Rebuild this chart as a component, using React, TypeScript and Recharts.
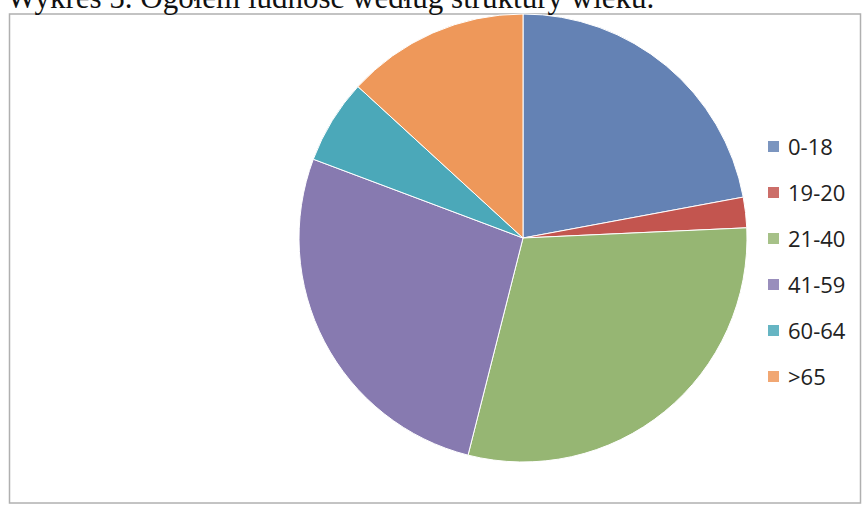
import { PieChart, Pie, Cell, Legend } from 'recharts'

const groups = ['0-18', '19-20', '21-40', '41-59', '60-64', '>65']
const shares = [22.1, 2.2, 29.7, 26.8, 6.1, 13.2]
const colors = ['#6482B4', '#C3554F', '#96B673', '#877AB0', '#4BA8B9', '#EE985A']

const title = 'Wykres 5. Ogółem ludność według struktury wieku.'

const data = groups.map((g, i) => ({ name: g, value: shares[i] }))

function LegendBox({ payload }: any) {
    return (
        <ul style={{ listStyle: 'none', margin: 0, padding: 0 }}>
            {(payload || []).map((p: any) => (
                <li key={p.value} style={{ height: 46, display: 'flex', alignItems: 'center' }}>
                    <span style={{ width: 11, height: 11, background: p.color, display: 'inline-block', marginRight: 9, opacity: 0.85 }} />
                    <span style={{ fontFamily: '"Open Sans", sans-serif', fontSize: 22, color: '#222' }}>{p.value}</span>
                </li>
            ))}
        </ul>
    )
}

export default function App() {
    return (
        <div style={{ position: 'absolute', left: 0, top: 0, width: 862, height: 509, background: '#fff', overflow: 'hidden' }}>
            <svg width={862} height={509} style={{ position: 'absolute', left: 0, top: 0 }}>
                <rect x={9.5} y={14} width={851} height={489} fill="#fff" stroke="#b0b0b0" strokeWidth={1.5} />
                <text x={7} y={8} fontFamily='"Liberation Serif", serif' fontSize={31} fill="#111">{title}</text>
            </svg>
            <div style={{ position: 'absolute', left: 0, top: 0 }}>
                <PieChart width={862} height={509} margin={{ top: 0, right: 0, bottom: 0, left: 0 }}>
                    <Pie
                        data={data}
                        dataKey="value"
                        nameKey="name"
                        cx={523}
                        cy={238}
                        outerRadius={224}
                        startAngle={90}
                        endAngle={-270}
                        stroke="#fff"
                        strokeWidth={1}
                        isAnimationActive={false}
                    >
                        {data.map((d, i) => (
                            <Cell key={d.name} fill={colors[i]} />
                        ))}
                    </Pie>
                    <Legend
                        layout="vertical"
                        content={<LegendBox />}
                        wrapperStyle={{ left: 768, top: 123, width: 90 }}
                    />
                </PieChart>
            </div>
        </div>
    )
}
